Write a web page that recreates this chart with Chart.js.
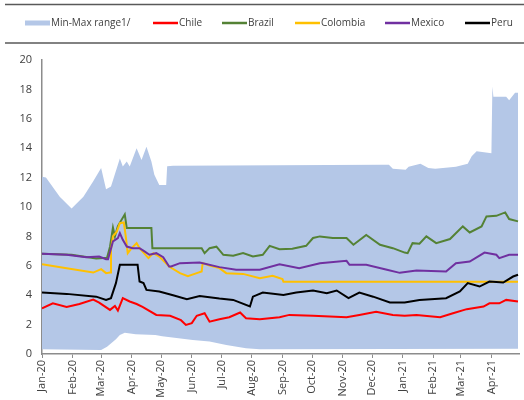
<!DOCTYPE html>
<html>
<head>
<meta charset="utf-8">
<script src="https://cdn.jsdelivr.net/npm/chart.js@4.4.0/dist/chart.umd.min.js"></script>
<style>
html, body { margin: 0; padding: 0; background: #ffffff; }
#chart { display: block; }
</style>
</head>
<body>
<canvas id="chart" width="524" height="400"></canvas>
<script>
// days counted from 1 Jan 2020
const monthTicks = [0, 31, 60, 91, 121, 152, 182, 213, 244, 274, 305, 335, 366, 397, 425, 456];
const monthLabels = ['Jan-20', 'Feb-20', 'Mar-20', 'Apr-20', 'May-20', 'Jun-20', 'Jul-20', 'Aug-20',
    'Sep-20', 'Oct-20', 'Nov-20', 'Dec-20', 'Jan-21', 'Feb-21', 'Mar-21', 'Apr-21'];
const lastDay = 484;

const rangeMin = [[0, 0.33], [60, 0.27], [66, 0.5], [75, 1.0], [79, 1.3], [84, 1.45], [95, 1.35], [115, 1.3],
    [122, 1.2], [153, 0.95], [170, 0.85], [187, 0.61], [207, 0.39], [221, 0.32], [483, 0.35]];
const rangeMax = [[0, 12.05], [4, 12.0], [18, 10.7], [30, 9.9], [42, 10.7], [52, 11.75], [60, 12.65], [65, 11.2],
    [70, 11.4], [79, 13.3], [82, 12.75], [86, 13.1], [89, 12.75], [96, 14.0], [101, 13.2], [106, 14.1],
    [111, 13.1], [114, 12.2], [119, 11.5], [126, 11.5], [127, 12.77], [133, 12.8], [345, 12.88], [352, 12.88],
    [356, 12.6], [369, 12.54], [372, 12.73], [384, 12.95], [392, 12.66], [399, 12.6], [420, 12.73], [432, 12.95],
    [436, 13.45], [441, 13.8], [456, 13.65], [457, 18.2], [458, 17.5], [471, 17.5], [474, 17.27], [480, 17.77],
    [483, 17.77]];
const chile = [[0, 3.1], [11, 3.45], [25, 3.2], [38, 3.4], [52, 3.7], [58, 3.5], [69, 3.0], [74, 3.27], [77, 2.95],
    [82, 3.8], [89, 3.57], [96, 3.4], [102, 3.2], [116, 2.66], [130, 2.6], [141, 2.3], [146, 1.98], [152, 2.1],
    [157, 2.6], [165, 2.77], [170, 2.2], [180, 2.36], [190, 2.5], [201, 2.82], [207, 2.43], [221, 2.36],
    [241, 2.5], [251, 2.66], [275, 2.6], [309, 2.5], [322, 2.66], [339, 2.88], [356, 2.66], [368, 2.6],
    [380, 2.66], [404, 2.5], [417, 2.77], [431, 3.05], [448, 3.23], [454, 3.45], [464, 3.45], [471, 3.68],
    [483, 3.57]];
const brazil = [[0, 6.82], [30, 6.75], [55, 6.5], [66, 6.55], [69, 7.3], [72, 8.6], [74, 8.0], [77, 8.7],
    [84, 9.5], [86, 8.57], [111, 8.57], [112, 7.2], [162, 7.2], [165, 6.86], [170, 7.2], [177, 7.3],
    [184, 6.75], [194, 6.68], [204, 6.86], [214, 6.63], [224, 6.75], [231, 7.36], [241, 7.13], [254, 7.16],
    [268, 7.36], [275, 7.89], [282, 8.0], [295, 7.89], [309, 7.89], [316, 7.43], [329, 8.1], [343, 7.43],
    [356, 7.2], [368, 6.9], [371, 6.86], [376, 7.54], [383, 7.5], [390, 8.0], [400, 7.54], [414, 7.82],
    [427, 8.68], [434, 8.27], [446, 8.68], [451, 9.36], [461, 9.4], [470, 9.63], [474, 9.18], [483, 9.02]];
const colombia = [[0, 6.11], [25, 5.84], [52, 5.54], [60, 5.77], [65, 5.5], [69, 5.54], [70, 7.1], [72, 8.0],
    [76, 8.34], [79, 8.9], [83, 8.95], [85, 8.0], [87, 6.86], [91, 7.2], [96, 7.54], [99, 7.2], [108, 6.52],
    [113, 6.86], [119, 6.63], [129, 5.95], [140, 5.5], [148, 5.3], [157, 5.5], [162, 5.61], [163, 6.18],
    [170, 6.02], [180, 5.84], [187, 5.5], [204, 5.45], [221, 5.16], [234, 5.32], [244, 5.1], [245, 4.92],
    [483, 4.92]];
const mexico = [[0, 6.82], [25, 6.75], [45, 6.59], [58, 6.63], [65, 6.45], [67, 6.45], [72, 7.66], [77, 7.89],
    [79, 8.23], [82, 7.77], [86, 7.31], [92, 7.2], [99, 7.2], [104, 6.98], [109, 6.75], [116, 6.86],
    [123, 6.59], [129, 5.95], [131, 5.95], [140, 6.18], [160, 6.23], [180, 5.91], [197, 5.73], [221, 5.73],
    [241, 6.1], [261, 5.84], [282, 6.18], [309, 6.34], [312, 6.07], [329, 6.07], [350, 5.73], [363, 5.52],
    [380, 5.68], [410, 5.61], [420, 6.18], [434, 6.29], [449, 6.9], [461, 6.75], [464, 6.52], [474, 6.75],
    [483, 6.75]];
const peru = [[0, 4.18], [25, 4.09], [55, 3.9], [65, 3.68], [70, 3.8], [75, 4.82], [79, 6.07], [97, 6.07],
    [99, 4.93], [103, 4.82], [106, 4.36], [119, 4.25], [133, 4.0], [147, 3.73], [160, 3.95], [180, 3.77],
    [194, 3.68], [211, 3.23], [214, 3.9], [224, 4.18], [245, 4.02], [258, 4.18], [275, 4.32], [289, 4.14],
    [299, 4.32], [311, 3.8], [322, 4.18], [336, 3.9], [353, 3.5], [368, 3.5], [383, 3.68], [410, 3.8],
    [424, 4.25], [432, 4.82], [444, 4.59], [454, 4.93], [468, 4.86], [478, 5.27], [483, 5.39]];

const toPoints = (rows) => rows.map(([x, y]) => ({ x, y }));

const BAND = '#b4c7e7';
const TEXT = '#404040';
const AXIS = '#8c8c8c';

function lineSet(label, rows, color, order) {
    return {
        label,
        data: toPoints(rows),
        borderColor: color,
        backgroundColor: color,
        borderWidth: 2,
        pointRadius: 0,
        tension: 0,
        fill: false,
        order,
    };
}

const datasets = [
    {
        label: 'min',
        data: toPoints(rangeMin),
        borderWidth: 0,
        pointRadius: 0,
        fill: false,
        order: 20,
    },
    {
        label: 'Min-Max range1/',
        data: toPoints(rangeMax),
        borderWidth: 0,
        pointRadius: 0,
        backgroundColor: BAND,
        borderColor: BAND,
        fill: '-1',
        order: 10,
        band: true,
    },
    lineSet('Chile', chile, '#ff0000', 5),
    lineSet('Brazil', brazil, '#548235', 4),
    lineSet('Colombia', colombia, '#ffc000', 3),
    lineSet('Mexico', mexico, '#7030a0', 2),
    lineSet('Peru', peru, '#000000', 1),
];

// legend between two horizontal rules, like the source figure
const legendStarts = [25, 153, 222, 295, 385, 465];
const topLegend = {
    id: 'topLegend',
    afterDraw(chart) {
        const ctx = chart.ctx;
        ctx.save();
        ctx.strokeStyle = '#595959';
        ctx.lineWidth = 1.5;
        [4.5, 43].forEach((y) => {
            ctx.beginPath();
            ctx.moveTo(5, y);
            ctx.lineTo(524, y);
            ctx.stroke();
        });

        ctx.font = '10px "Open Sans"';
        ctx.textBaseline = 'middle';
        const items = chart.data.datasets.filter(ds => ds.label !== 'min');
        const y = 23;
        items.forEach((ds, i) => {
            const x = legendStarts[i];
            if (ds.band) {
                ctx.fillStyle = ds.backgroundColor;
                ctx.fillRect(x, y - 2.5, 25, 5);
            } else {
                ctx.strokeStyle = ds.borderColor;
                ctx.lineWidth = 2.5;
                ctx.beginPath();
                ctx.moveTo(x, y);
                ctx.lineTo(x + 25, y);
                ctx.stroke();
            }
            ctx.fillStyle = TEXT;
            ctx.fillText(ds.label, x + 26, y + 0.5);
        });
        ctx.restore();
    }
};

new Chart(document.getElementById('chart').getContext('2d'), {
    type: 'line',
    data: { datasets },
    plugins: [topLegend],
    options: {
        responsive: false,
        animation: false,
        layout: {
            padding: { top: 60, right: 5, left: 0, bottom: 0 },
        },
        plugins: {
            legend: { display: false },
            tooltip: { enabled: false },
            filler: { propagate: false },
        },
        scales: {
            x: {
                type: 'linear',
                min: 0,
                max: lastDay,
                afterBuildTicks: (scale) => {
                    scale.ticks = monthTicks.map(v => ({ value: v }));
                },
                afterFit: (scale) => {
                    scale.height = 46;
                },
                ticks: {
                    autoSkip: false,
                    maxRotation: 90,
                    minRotation: 90,
                    padding: 2,
                    color: TEXT,
                    font: { family: 'Open Sans', size: 11 },
                    callback: (value) => monthLabels[monthTicks.indexOf(value)] || '',
                },
                grid: {
                    drawOnChartArea: false,
                    drawTicks: true,
                    tickLength: 4,
                    color: AXIS,
                },
                border: { color: AXIS, width: 1.5 },
            },
            y: {
                min: 0,
                max: 20,
                afterFit: (scale) => {
                    scale.width = 42;
                },
                ticks: {
                    stepSize: 2,
                    padding: 10,
                    color: TEXT,
                    font: { family: 'Open Sans', size: 11 },
                },
                grid: {
                    drawOnChartArea: false,
                    drawTicks: false,
                },
                border: { color: AXIS, width: 1.5 },
            },
        },
    },
});
</script>
</body>
</html>
